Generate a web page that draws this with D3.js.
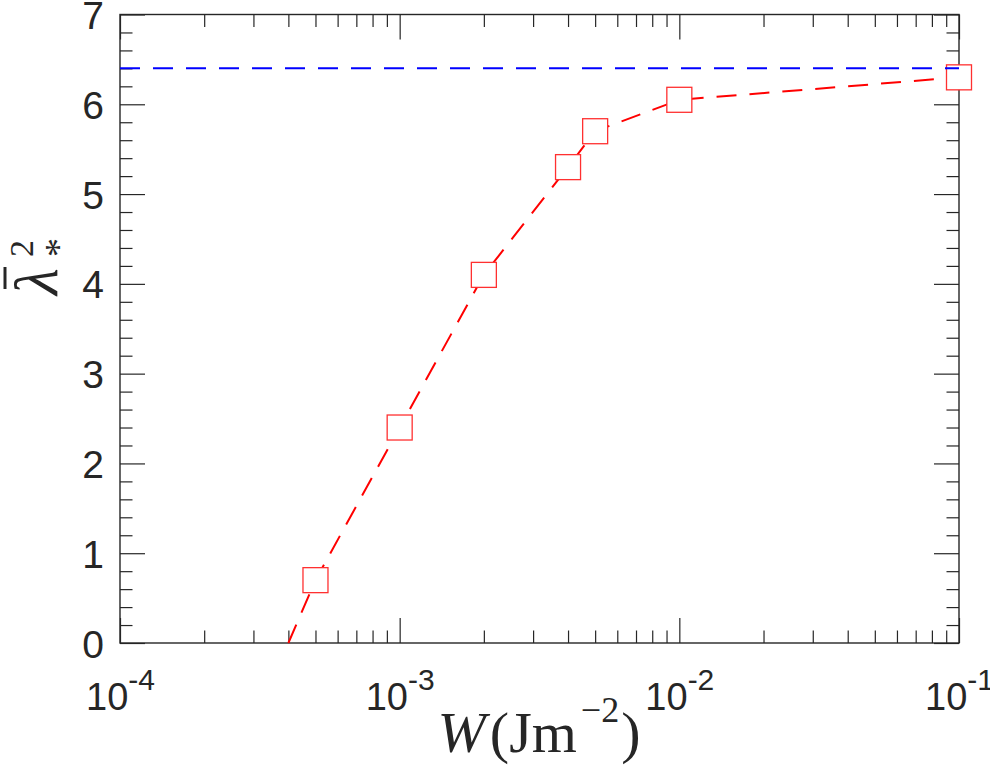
<!DOCTYPE html>
<html>
<head>
<meta charset="utf-8">
<script src="https://cdn.jsdelivr.net/npm/d3@7"></script>
<style>
  body { margin: 0px; background: #fff; }
</style>
</head>
<body>
<div id="app"></div>
<script>
// data
const lineW = [4e-4, 5e-4, 1e-3, 2e-3, 4e-3, 5e-3, 1e-2, 1e-1]
const lineLambda = [0, 0.7, 2.4, 4.1, 5.3, 5.7, 6.05, 6.3]
const markW = [5e-4, 1e-3, 2e-3, 4e-3, 5e-3, 1e-2, 1e-1]
const markLambda = [0.7, 2.4, 4.1, 5.3, 5.7, 6.05, 6.3]
const limitLambda = 6.4
const xMajor = [1e-4, 1e-3, 1e-2, 1e-1]
const xExp = ['-4', '-3', '-2', '-1']
const yMajor = [0, 1, 2, 3, 4, 5, 6, 7]

const width = 990, height = 767
const margin = {top: 14.5, right: 31, bottom: 124, left: 120}
const axisColor = '#262626'

const svg = d3.select('#app').append('svg')
  .attr('width', width).attr('height', height)
  .style('font-family', '"Liberation Sans", Arial, sans-serif')

const x = d3.scaleLog().domain([1e-4, 1e-1]).range([margin.left, width - margin.right])
const y = d3.scaleLinear().domain([0, 7]).range([height - margin.bottom, margin.top])

// minor ticks
const xMinor = []
for (let e = -4; e < -1; e++) for (let k = 2; k <= 9; k++) xMinor.push(k * Math.pow(10, e))
const yMinor = d3.range(0, 7.001, 0.2).filter(v => Math.abs(v - Math.round(v)) > 1e-6)

const major = 25, minor = 12.5

const drawAxis = (axis, tx, ty) => {
  const g = svg.append('g').attr('transform', `translate(${tx},${ty})`).call(axis)
  g.select('.domain').remove()
  g.selectAll('line').attr('stroke', axisColor).attr('stroke-width', 1.2)
  return g
}

// minor ticks on all four sides
drawAxis(d3.axisBottom(x).tickValues(xMinor).tickSize(-minor).tickFormat(''), 0, y(0))
drawAxis(d3.axisTop(x).tickValues(xMinor).tickSize(-minor).tickFormat(''), 0, y(7))
drawAxis(d3.axisLeft(y).tickValues(yMinor).tickSize(-minor).tickFormat(''), x(1e-4), 0)
drawAxis(d3.axisRight(y).tickValues(yMinor).tickSize(-minor).tickFormat(''), x(1e-1), 0)

// major ticks
const xb = drawAxis(d3.axisBottom(x).tickValues(xMajor).tickSize(-major).tickPadding(40).tickFormat(''), 0, y(0))
xb.selectAll('.tick text').each(function(d, i) {
  const t = d3.select(this).attr('fill', axisColor).style('font-size', '38px')
  t.append('tspan').text('10')
  t.append('tspan').text(xExp[i]).attr('dy', -20).style('font-size', '30px')
})
drawAxis(d3.axisTop(x).tickValues(xMajor).tickSize(-major).tickFormat(''), 0, y(7))
const yl = drawAxis(d3.axisLeft(y).tickValues(yMajor).tickSize(-major).tickPadding(16).tickFormat(d3.format('d')), x(1e-4), 0)
yl.selectAll('.tick text').attr('fill', axisColor).style('font-size', '39px').attr('dy', '0.36em')
drawAxis(d3.axisRight(y).tickValues(yMajor).tickSize(-major).tickFormat(''), x(1e-1), 0)

// frame
svg.append('rect')
  .attr('x', x(1e-4)).attr('y', y(7))
  .attr('width', x(1e-1) - x(1e-4)).attr('height', y(0) - y(7))
  .attr('fill', 'none').attr('stroke', axisColor).attr('stroke-width', 1.4)

// red dashed curve
const pts = lineW.map((w, i) => [w, lineLambda[i]])
const line = d3.line().x(d => x(d[0])).y(d => y(d[1]))
svg.append('path').datum(pts)
  .attr('d', line)
  .attr('fill', 'none').attr('stroke', '#ff0000').attr('stroke-width', 2)
  .attr('stroke-dasharray', '20,13')

// square markers
const s = 25
svg.selectAll('.mark').data(markW).enter().append('rect')
  .attr('class', 'mark')
  .attr('x', (d) => x(d) - s / 2)
  .attr('y', (d, i) => y(markLambda[i]) - s / 2)
  .attr('width', s).attr('height', s)
  .attr('fill', '#fff').attr('stroke', '#ff3030').attr('stroke-width', 1.3)

// blue dashed limit
svg.append('path').datum([[1e-4, limitLambda], [1e-1, limitLambda]])
  .attr('d', line)
  .attr('fill', 'none').attr('stroke', '#0000ff').attr('stroke-width', 2)
  .attr('stroke-dasharray', '20,13')

// x label
const xlab = svg.append('text')
  .attr('x', 539).attr('y', 752)
  .attr('text-anchor', 'middle')
  .attr('fill', axisColor)
  .style('font-family', '"Liberation Serif", "Times New Roman", serif')
  .style('font-size', '58px')
xlab.append('tspan').text('W').style('font-style', 'italic')
xlab.append('tspan').text('(').attr('dx', 4)
xlab.append('tspan').text('Jm')
xlab.append('tspan').text('\u22122').attr('dy', -30).attr('dx', 4).style('font-size', '36px')
xlab.append('tspan').text(')').attr('dy', 30).attr('dx', 2)

// y label, rotated
const ylab = svg.append('g').attr('transform', 'translate(57,295) rotate(-90)')
  .attr('fill', axisColor)
  .style('font-family', '"Liberation Serif", "Times New Roman", serif')
ylab.append('text').text('\u03bb').attr('x', 0).attr('y', 0)
  .style('font-size', '62px').style('font-style', 'italic')
ylab.append('line').attr('x1', 6).attr('x2', 28).attr('y1', -52).attr('y2', -52)
  .attr('stroke', axisColor).attr('stroke-width', 3)
ylab.append('text').text('2').attr('x', 38).attr('y', -24).style('font-size', '34px')
ylab.append('text').text('*').attr('x', 38).attr('y', 14).style('font-size', '38px')
</script>
</body>
</html>
